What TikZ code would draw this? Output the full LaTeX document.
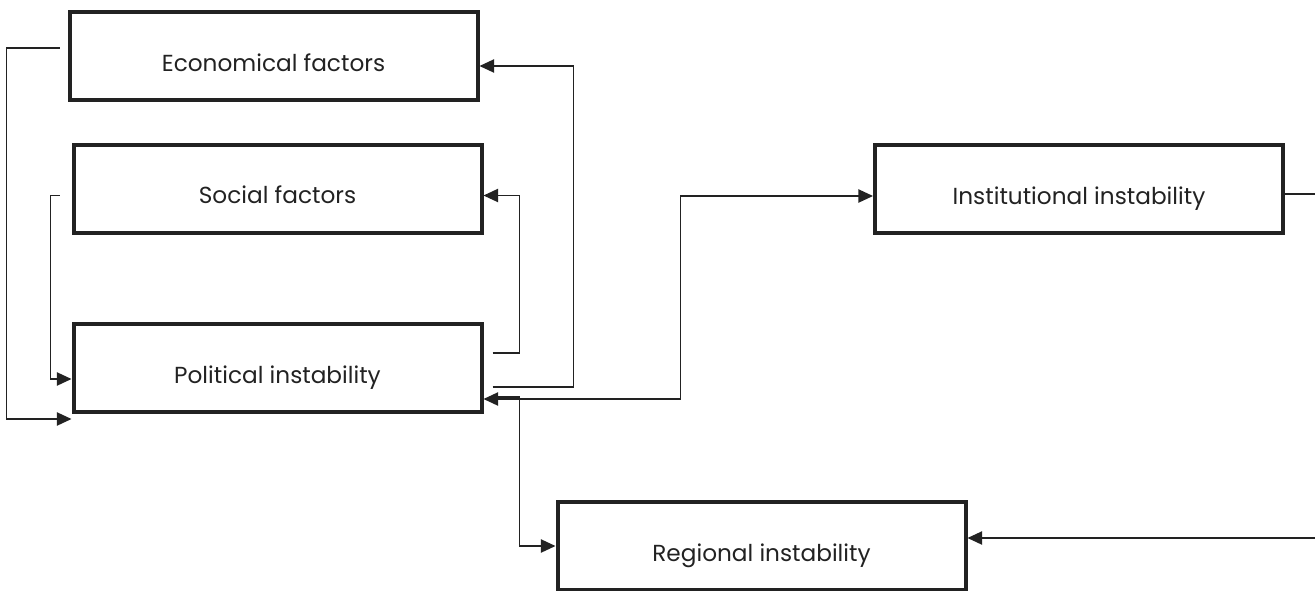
\documentclass[tikz,border=0pt]{standalone}
\usepackage{fontspec}
\setmainfont{Poppins}
\usetikzlibrary{arrows.meta,calc}
\definecolor{inkgray}{HTML}{222222}

\tikzset{
  factorbox/.style={draw=inkgray,line width=3pt,rectangle,
    minimum width=306pt,minimum height=66pt,inner sep=0pt,
    text height=22.5pt,text depth=0pt,font=\fontsize{17.4}{20}\selectfont,text=inkgray},
  link/.style={draw=inkgray,line width=1pt,-{Triangle[length=11pt,width=10pt]}},
  twolink/.style={link,{Triangle[length=11pt,width=10pt]}-{Triangle[length=11pt,width=10pt]}}
}

\begin{document}
\begin{tikzpicture}[x=0.75pt,y=-0.75pt]
\useasboundingbox (0,0) rectangle (1315,590);

\node[factorbox] (econ) at (273.5,56) {Economical factors};
\node[factorbox] (social) at (277.5,188.5) {Social factors};
\node[factorbox] (polit) at (277.5,368) {Political instability};
\node[factorbox] (instit) at (1079,189) {Institutional instability};
\node[factorbox] (region) at (761.5,546) {Regional instability};

% left loops
\draw[link] ($(econ.west)+(-8,-8)$) -- ++(-53,0) |- ($(polit.south west)+(0,5)$);
\draw[link] ($(social.west)+(-12,7)$) -- ++(-9,0) |- ($(polit.west)+(0,11)$);

% right loops
\draw[link] ($(polit.east)+(9,-15)$) -- ++(27,0) |- ($(social.east)+(0,7)$);
\draw[link] ($(polit.east)+(9,19)$) -- ++(81,0) |- ($(econ.east)+(0,10)$);

\draw[twolink] ($(polit.east)+(0,31)$) -- ++(197,0) |- ($(instit.west)+(0,7)$);
\draw[link] ($(polit.east)+(10,29)$) -- ++(26,0) |- (region.west);
\draw[link] ($(instit.east)+(0,5)$) -- ++(46,0) |- ($(region.east)+(0,-8)$);
\end{tikzpicture}
\end{document}
